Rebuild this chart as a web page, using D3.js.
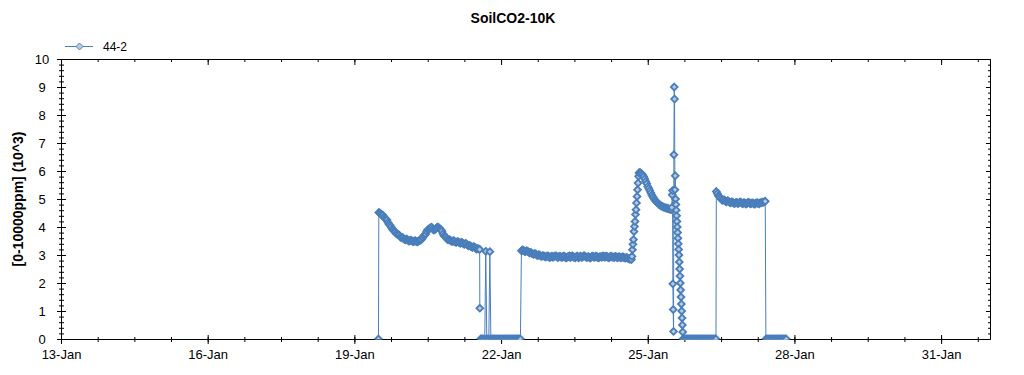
<!DOCTYPE html>
<html>
<head>
<meta charset="utf-8">
<script src="https://cdn.jsdelivr.net/npm/d3@7"></script>
<style>
  body { margin: 0; background: #fff; }
  text { font-family: Arial, "Liberation Sans", sans-serif; }
</style>
</head>
<body>
<div id="chart"></div>
<script>
const width = 1024;
const height = 375;

const title = "SoilCO2-10K";
const yLabel = "[0-10000ppm] (10^3)";
const seriesName = "44-2";

const xTickDates = ["2020-01-13", "2020-01-16", "2020-01-19", "2020-01-22", "2020-01-25", "2020-01-28", "2020-01-31"];
const xTickLabels = ["13-Jan", "16-Jan", "19-Jan", "22-Jan", "25-Jan", "28-Jan", "31-Jan"];
const yTicks = [0, 1, 2, 3, 4, 5, 6, 7, 8, 9, 10];

// readings in 10^3 ppm, one array per stretch of the log
const fall19 = [4.52, 4.50, 4.46, 4.44, 4.42, 4.35, 4.31, 4.28, 4.25, 4.16, 4.10, 4.06, 4.01, 3.94, 3.89, 3.86, 3.83, 3.77, 3.74, 3.73,
  3.71, 3.65, 3.62, 3.63, 3.60, 3.56, 3.54, 3.57, 3.55, 3.51, 3.50, 3.53, 3.52, 3.49, 3.48, 3.50, 3.51, 3.48, 3.47, 3.50,
  3.52, 3.53, 3.56, 3.62, 3.68, 3.71, 3.75, 3.84, 3.90, 3.92, 3.95, 3.98, 3.99, 3.93, 3.89, 3.91, 3.94, 3.98, 4.00, 3.97,
  3.93, 3.90, 3.85, 3.76, 3.69, 3.66, 3.63, 3.57, 3.54, 3.55, 3.53, 3.50, 3.48, 3.51, 3.50, 3.46, 3.45, 3.48, 3.47, 3.44,
  3.42, 3.45, 3.44, 3.40, 3.38, 3.41, 3.40, 3.35, 3.33, 3.34, 3.32, 3.29, 3.27, 3.30, 3.28, 3.24, 3.21, 3.23, 3.22, 3.20];
const gap21 = [0, 0, 0, 0, 0, 3.13, 0, 0, 0, 3.12, 0, 0, 0, 0, 0, 0, 0, 0, 0, 0,
  0, 0, 0, 0, 0, 0, 0, 0, 0, 0, 0, 0, 0, 0, 0, 0, 0, 0, 0, 0];
const flat22 = [3.15, 3.18, 3.17, 3.13, 3.12, 3.15, 3.14, 3.10, 3.08, 3.09, 3.07, 3.04, 3.02, 3.05, 3.04, 3.00, 2.98, 3.01, 3.00, 2.96,
  2.95, 2.98, 2.97, 2.94, 2.93, 2.96, 2.97, 2.93, 2.91, 2.94, 2.96, 2.92, 2.94, 2.97, 2.97, 2.93, 2.91, 2.95, 2.95, 2.92,
  2.92, 2.96, 2.96, 2.91, 2.90, 2.93, 2.94, 2.97, 2.91, 2.95, 2.97, 2.93, 2.92, 2.90, 2.95, 2.96, 2.90, 2.93, 2.96, 2.92,
  2.93, 2.97, 2.97, 2.94, 2.91, 2.93, 2.94, 2.90, 2.90, 2.95, 2.96, 2.93, 2.92, 2.96, 2.95, 2.91, 2.90, 2.94, 2.94, 2.92,
  2.97, 2.95, 2.92, 2.96, 2.95, 2.91, 2.90, 2.94, 2.96, 2.93, 2.93, 2.91, 2.95, 2.94, 2.90, 2.93, 2.94, 2.91, 2.91, 2.93,
  2.93, 2.90, 2.89, 2.91, 2.90, 2.87, 2.85, 2.86, 2.84];
const rise24 = [2.95, 3.19, 3.38, 3.55, 3.84, 4.02, 4.20, 4.45, 4.62, 4.86, 5.09, 5.33, 5.57, 5.81, 5.93, 5.95];
const decay24 = [5.93, 5.90, 5.86, 5.80, 5.72, 5.63, 5.55, 5.45, 5.38, 5.30, 5.22, 5.14, 5.08, 5.02, 4.96, 4.92, 4.88, 4.85, 4.81, 4.78,
  4.76, 4.74, 4.72, 4.70, 4.69, 4.68, 4.67, 4.66, 4.64, 4.63];
const spike25 = [4.62, 4.70, 5.15, 5.30, 1.97, 1.05, 0.27, 6.58, 9.00, 8.57, 5.33, 5.83, 5.00, 4.80, 4.60, 4.40, 4.20, 4.00, 3.80, 3.60,
  3.40, 3.20, 3.00, 2.75, 2.50, 2.25, 2.00, 1.75, 1.50, 1.25, 1.00, 0.75, 0.50, 0.25, 0];
const gap25 = [0, 0, 0, 0, 0, 0, 0, 0, 0, 0, 0, 0, 0, 0, 0, 0, 0, 0, 0, 0,
  0, 0, 0, 0, 0, 0, 0, 0, 0, 0, 0, 0, 0];
const flat26 = [5.27, 5.20, 5.12, 5.08, 5.04, 4.99, 4.95, 4.97, 4.96, 4.92, 4.90, 4.94, 4.92, 4.88, 4.86, 4.90, 4.89, 4.85, 4.84, 4.87,
  4.88, 4.84, 4.85, 4.89, 4.89, 4.85, 4.83, 4.87, 4.86, 4.82, 4.84, 4.88, 4.88, 4.84, 4.83, 4.86, 4.86, 4.82, 4.82, 4.86,
  4.87, 4.84, 4.83, 4.87, 4.86, 4.89, 4.88, 4.90, 4.92];
const gap27 = [0, 0, 0, 0, 0, 0, 0, 0, 0, 0, 0, 0, 0, 0, 0, 0, 0, 0, 0, 0, 0];
const singles = [["2020-01-19T11:50", 0], ["2020-01-21T13:35", 1.1], ["2020-01-21T13:40", null]];

const parse = d3.timeParse("%Y-%m-%dT%H:%M");
const parseDay = d3.timeParse("%Y-%m-%d");

function run(start, stepMin, values) {
  const t0 = parse(start);
  return values.map((v, i) => ({ t: new Date(+t0 + i * stepMin * 60000), v: v }));
}

const data = [].concat(
  run("2020-01-19T12:00", 30, fall19),
  run("2020-01-21T14:00", 30, gap21),
  run("2020-01-22T10:00", 30, flat22),
  run("2020-01-24T16:15", 15, rise24),
  run("2020-01-24T20:30", 30, decay24),
  run("2020-01-25T11:40", 10, spike25),
  run("2020-01-25T17:30", 30, gap25),
  run("2020-01-26T09:40", 30, flat26),
  run("2020-01-27T10:00", 30, gap27),
  singles.map(d => ({ t: parse(d[0]), v: d[1] }))
).sort((a, b) => a.t - b.t);

const plotLeft = 61, plotRight = 990, plotTop = 59, plotBottom = 339;
const lineColor = "#4a7ebb";
const markFill = "#b9cbdd";

const svg = d3.select("#chart")
  .append("svg")
    .attr("width", width)
    .attr("height", height);

const x = d3.scaleTime()
  .domain([parseDay("2020-01-13"), parseDay("2020-02-01")])
  .range([plotLeft, plotRight]);
const y = d3.scaleLinear().domain([0, 10]).range([plotBottom, plotTop]);

const xMajor = xTickDates.map(parseDay);
const xMinor = d3.range(0, 26).map(i => d3.timeHour.offset(xMajor[0], i * 18)).filter(d => d < x.domain()[1]);
const yMinor = d3.range(0, 51).map(i => i / 5);

function fontify(g, size) {
  g.attr("font-size", size).attr("font-family", "Arial, 'Liberation Sans', sans-serif");
}

// bottom axis
svg.append("g")
  .attr("transform", `translate(0,${plotBottom})`)
  .call(d3.axisBottom(x).tickValues(xMinor).tickFormat("").tickSize(3))
  .call(g => g.select(".domain").remove())
  .selectAll(".tick line").attr("y1", -2);

const gx = svg.append("g")
  .attr("transform", `translate(0,${plotBottom})`)
  .call(d3.axisBottom(x).tickValues(xMajor).tickFormat((d, i) => xTickLabels[i])
    .tickSizeInner(5).tickSizeOuter(0).tickPadding(6));
gx.selectAll(".tick line").attr("y1", -4);
gx.call(fontify, 13);
gx.selectAll("text").attr("fill", "#000");

// top axis
svg.append("g")
  .attr("transform", `translate(0,${plotTop})`)
  .call(d3.axisTop(x).tickValues(xMinor).tickFormat("").tickSizeInner(-3).tickSizeOuter(0));
svg.append("g")
  .attr("transform", `translate(0,${plotTop})`)
  .call(d3.axisTop(x).tickValues(xMajor).tickFormat("").tickSizeInner(-6).tickSizeOuter(0));

// left axis
svg.append("g")
  .attr("transform", `translate(${plotLeft},0)`)
  .call(d3.axisLeft(y).tickValues(yMinor).tickFormat("").tickSize(2))
  .call(g => g.select(".domain").remove())
  .selectAll(".tick line").attr("x1", 3);

const gy = svg.append("g")
  .attr("transform", `translate(${plotLeft},0)`)
  .call(d3.axisLeft(y).tickValues(yTicks).tickSizeInner(4).tickSizeOuter(0));
gy.selectAll(".tick line").attr("x1", 5);
gy.selectAll("text").attr("x", -19).attr("text-anchor", "middle").attr("fill", "#000");
gy.call(fontify, 13);

// right axis
svg.append("g")
  .attr("transform", `translate(${plotRight},0)`)
  .call(d3.axisRight(y).tickValues(yMinor).tickFormat("").tickSizeInner(-2).tickSizeOuter(0));
svg.append("g")
  .attr("transform", `translate(${plotRight},0)`)
  .call(d3.axisRight(y).tickValues(yTicks).tickFormat("").tickSizeInner(-4).tickSizeOuter(0));

// series
svg.append("clipPath").attr("id", "plot")
  .append("rect")
    .attr("x", plotLeft).attr("y", plotTop)
    .attr("width", plotRight - plotLeft + 1).attr("height", plotBottom - plotTop + 0.5);

const plot = svg.append("g").attr("clip-path", "url(#plot)");

const line = d3.line()
  .defined(d => d.v != null)
  .x(d => x(d.t))
  .y(d => y(d.v));

plot.append("path")
  .datum(data)
  .attr("fill", "none")
  .attr("stroke", lineColor)
  .attr("stroke-width", 1)
  .attr("d", line);

const diamond = r => `M0,${-r}L${r},0L0,${r}L${-r},0Z`;

plot.selectAll(".mark")
  .data(data.filter(d => d.v != null))
  .join("path")
    .attr("class", "mark")
    .attr("transform", d => `translate(${x(d.t)},${y(d.v)})`)
    .attr("d", diamond(3.4))
    .attr("fill", markFill)
    .attr("stroke", lineColor)
    .attr("stroke-width", 1.8);

// title, axis label, legend
svg.append("text")
  .attr("x", 513).attr("y", 23)
  .attr("text-anchor", "middle")
  .attr("font-size", 14).attr("font-weight", "bold")
  .text(title);

svg.append("text")
  .attr("transform", `translate(23,${(plotTop + plotBottom) / 2}) rotate(-90)`)
  .attr("text-anchor", "middle")
  .attr("font-size", 14).attr("font-weight", "bold")
  .text(yLabel);

const legend = svg.append("g").attr("transform", "translate(65,46)");
legend.append("line")
  .attr("x1", 0).attr("x2", 28).attr("y1", 0.5).attr("y2", 0.5)
  .attr("stroke", lineColor);
legend.append("path")
  .attr("transform", "translate(14.5,0.5)")
  .attr("d", diamond(3.5))
  .attr("fill", markFill)
  .attr("stroke", lineColor);
legend.append("text")
  .attr("x", 38).attr("y", 4.5)
  .attr("font-size", 12)
  .text(seriesName);
</script>
</body>
</html>
